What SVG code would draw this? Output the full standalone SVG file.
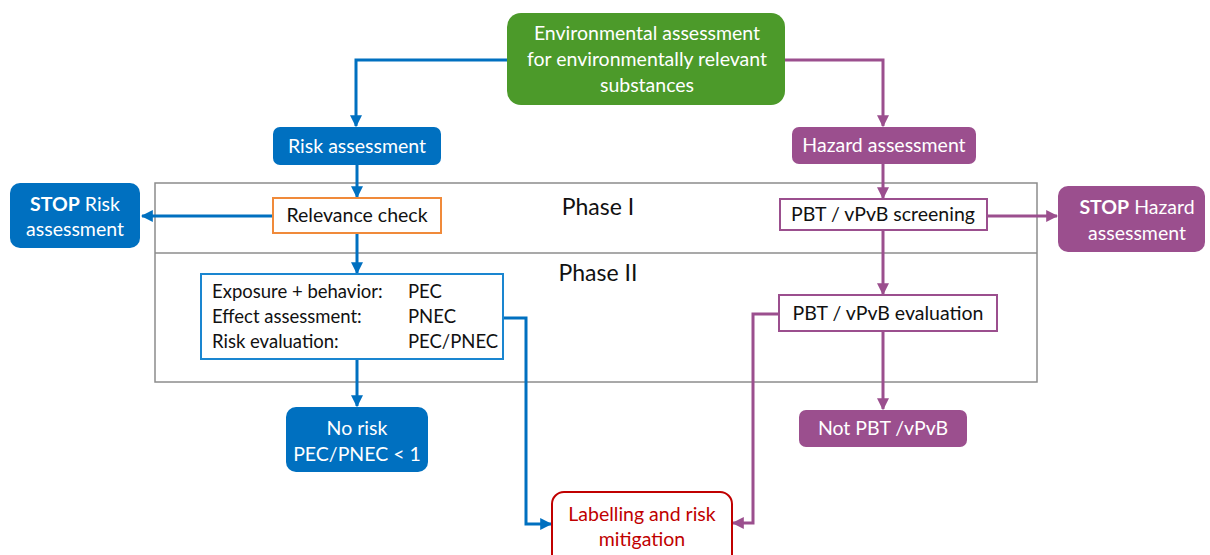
<svg xmlns="http://www.w3.org/2000/svg" width="1210" height="555" viewBox="0 0 1210 555">
  <defs>
    <marker id="ab" viewBox="0 0 10 10" refX="9" refY="5" markerWidth="4" markerHeight="4" orient="auto" markerUnits="strokeWidth">
      <path d="M0,0 L10,5 L0,10 z" fill="#0070C0"/>
    </marker>
    <marker id="ap" viewBox="0 0 10 10" refX="9" refY="5" markerWidth="4" markerHeight="4" orient="auto" markerUnits="strokeWidth">
      <path d="M0,0 L10,5 L0,10 z" fill="#9B4F8E"/>
    </marker>
    <style>
      text { font-family: Lato, "Open Sans", "Liberation Sans", sans-serif; font-size: 19.5px; }
      .w { fill: #ffffff; text-anchor: middle; }
      .k { fill: #111111; text-anchor: middle; }
      .kl { fill: #111111; font-size: 18.5px; }
      .r { fill: #C00000; text-anchor: middle; }
      .blue { fill: #0070C0; }
      .purple { fill: #9B4F8E; }
      .green { fill: #4C9A2A; }
      .cb { fill: none; stroke: #0070C0; stroke-width: 3; marker-end: url(#ab); }
      .cp { fill: none; stroke: #9B4F8E; stroke-width: 3; marker-end: url(#ap); }
      .phase { fill: none; stroke: #8C8C8C; stroke-width: 1.5; }
      .ph { fill: #111111; text-anchor: middle; font-size: 23px; }
    </style>
  </defs>

  <!-- phase frame -->
  <g id="phases">
    <rect class="phase" x="155" y="183" width="882" height="199"/>
    <line class="phase" x1="155" y1="253" x2="1037" y2="253"/>
    <text class="ph" x="598" y="215">Phase I</text>
    <text class="ph" x="598" y="281">Phase II</text>
  </g>

  <!-- connectors -->
  <g id="connectors">
    <polyline class="cb" points="507,60 356,60 356,126"/>
    <polyline class="cp" points="784,60 883,60 883,126"/>
    <line class="cb" x1="357" y1="165" x2="357" y2="197"/>
    <line class="cb" x1="273" y1="216" x2="142" y2="216"/>
    <line class="cb" x1="357" y1="233" x2="357" y2="273"/>
    <line class="cb" x1="357" y1="359" x2="357" y2="406"/>
    <polyline class="cb" points="502,318 526,318 526,524 551,524"/>
    <line class="cp" x1="883" y1="164" x2="883" y2="198"/>
    <line class="cp" x1="987" y1="216" x2="1057" y2="216"/>
    <line class="cp" x1="883" y1="230" x2="883" y2="294"/>
    <line class="cp" x1="883" y1="331" x2="883" y2="409"/>
    <polyline class="cp" points="779,314 753,314 753,523 733,523"/>
  </g>

  <g id="env">
    <rect class="green" x="507" y="13" width="278" height="92" rx="14"/>
    <text class="w" x="647" y="40">Environmental assessment</text>
    <text class="w" x="647" y="66">for environmentally relevant</text>
    <text class="w" x="647" y="92">substances</text>
  </g>

  <g id="risk">
    <rect class="blue" x="273" y="127" width="168" height="38" rx="7"/>
    <text class="w" x="357" y="153">Risk assessment</text>
  </g>

  <g id="hazard">
    <rect class="purple" x="792" y="127" width="184" height="37" rx="7"/>
    <text class="w" x="884" y="152">Hazard assessment</text>
  </g>

  <g id="relevance">
    <rect x="273" y="198" width="168" height="35" fill="#ffffff" stroke="#F08A3A" stroke-width="2"/>
    <text class="k" x="357" y="222">Relevance check</text>
  </g>

  <g id="stop-risk">
    <rect class="blue" x="10" y="183" width="130" height="65" rx="10"/>
    <text class="w" x="75" y="211"><tspan font-weight="bold">STOP</tspan> Risk</text>
    <text class="w" x="75" y="236">assessment</text>
  </g>

  <g id="screening">
    <rect x="780" y="199" width="207" height="31" fill="#ffffff" stroke="#9B4F8E" stroke-width="2"/>
    <text class="k" x="883" y="221">PBT / vPvB screening</text>
  </g>

  <g id="stop-hazard">
    <rect class="purple" x="1058" y="186" width="147" height="66" rx="10"/>
    <text class="w" x="1137" y="214"><tspan font-weight="bold">STOP</tspan> Hazard</text>
    <text class="w" x="1137" y="240">assessment</text>
  </g>

  <g id="phase2-risk">
    <rect x="201" y="274" width="302" height="85" fill="#ffffff" stroke="#1A86D0" stroke-width="2"/>
    <text class="kl" x="212" y="298">Exposure + behavior:</text>
    <text class="kl" x="408" y="298">PEC</text>
    <text class="kl" x="212" y="323">Effect assessment:</text>
    <text class="kl" x="408" y="323">PNEC</text>
    <text class="kl" x="212" y="348">Risk evaluation:</text>
    <text class="kl" x="408" y="348">PEC/PNEC</text>
  </g>

  <g id="evaluation">
    <rect x="779" y="295" width="218" height="36" fill="#ffffff" stroke="#9B4F8E" stroke-width="2"/>
    <text class="k" x="888" y="320">PBT / vPvB evaluation</text>
  </g>

  <g id="no-risk">
    <rect class="blue" x="286" y="407" width="142" height="65" rx="10"/>
    <text class="w" x="357" y="435">No risk</text>
    <text class="w" x="357" y="461">PEC/PNEC &lt; 1</text>
  </g>

  <g id="not-pbt">
    <rect class="purple" x="799" y="410" width="168" height="37" rx="7"/>
    <text class="w" x="883" y="435">Not PBT /vPvB</text>
  </g>

  <g id="labelling">
    <rect x="552" y="492" width="180" height="80" rx="12" fill="#ffffff" stroke="#C00000" stroke-width="2"/>
    <text class="r" x="642" y="521">Labelling and risk</text>
    <text class="r" x="642" y="546">mitigation</text>
  </g>
</svg>
